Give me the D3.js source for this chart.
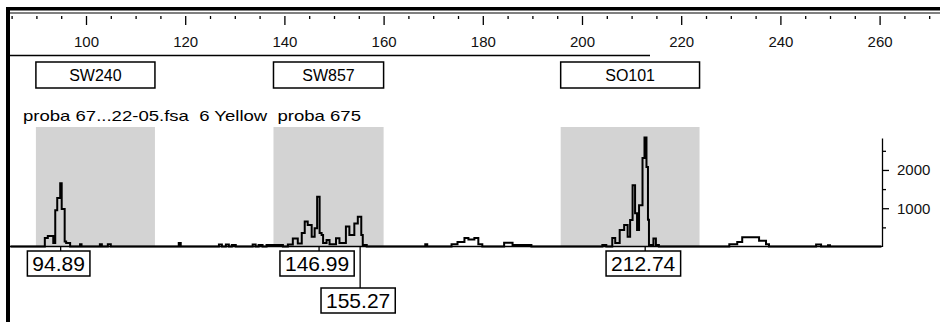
<!DOCTYPE html>
<html>
<head>
<meta charset="utf-8">
<script src="https://cdn.jsdelivr.net/npm/d3@7"></script>
<style>
  body { margin: 0; background: #fff; }
  svg { display: block; font-family: "Liberation Sans", Arial, sans-serif; }
</style>
</head>
<body>
<div id="chart"></div>
<script>
// size axis (bp) and rfu axis
const sizeMajor = [100, 120, 140, 160, 180, 200, 220, 240, 260];
const sizeMinor = [85, 90, 95, 105, 110, 115, 125, 130, 135, 145, 150, 155, 165, 170, 175,
    185, 190, 195, 205, 210, 215, 225, 230, 235, 245, 250, 255, 265, 270];
const rfuMajor = [1000, 2000];
const rfuMinor = [500, 1500, 2500];

// marker bins
const binNames = ["SW240", "SW857", "SO101"];
const binStart = [89.9, 137.8, 195.7];
const binEnd = [113.9, 160.0, 223.7];

const sampleTitle = "proba 67...22-05.fsa  6 Yellow  proba 675";

// trace (size bp, height rfu), drawn as steps
const traceSize = [84.8, 91.7, 92.3, 93.4, 93.8, 94.2, 94.8, 95.1, 95.7, 96.0, 96.8, 98.8, 99.1,
    102.8, 103.2, 104.4, 105.0, 118.7, 119.1, 126.8, 127.4, 128.2, 128.8, 129.4, 130.2,
    133.6, 134.2, 134.8, 135.6, 136.4, 139.7, 140.7, 141.7, 142.7, 143.5, 144.1, 144.7,
    145.5, 146.1, 146.6, 147.1, 147.5, 147.8, 148.5, 149.1, 150.4, 151.1, 152.4, 153.1,
    154.1, 154.8, 155.5, 155.8, 156.6, 168.4, 168.8, 173.7, 174.9, 176.3, 177.1, 178.3,
    179.1, 179.9, 184.3, 186.0, 189.8, 204.1, 204.9, 206.1, 206.7, 207.6, 208.5, 209.2,
    209.7, 210.2, 210.7, 211.1, 211.5, 212.2, 212.6, 213.0, 213.3, 213.5, 214.4, 214.9,
    215.5, 229.7, 231.3, 232.3, 235.7, 237.1, 237.7, 247.2, 248.2, 249.6, 250.0, 260.3];
const traceRfu = [0, 220, 275, 90, 950, 1270, 1650, 980, 130, 90, 0, 60, 0,
    60, 0, 60, 0, 90, 0, 50, 0, 50, 0, 40, 0,
    50, 0, 40, 0, 40, 0, 50, 210, 80, 350, 650, 560,
    255, 475, 1300, 350, 300, 90, 170, 60, 215, 90, 520, 300,
    600, 780, 300, 40, 0, 60, 0, 60, 120, 220, 180, 220,
    60, 0, 100, 40, 0, 40, 0, 220, 90, 430, 560, 255,
    690, 1600, 870, 430, 1080, 2310, 2850, 2080, 700, 40, 210, 40,
    0, 60, 120, 240, 150, 60, 0, 50, 0, 30, 0, 0];

// called peaks
const peakSizes = [94.89, 146.99, 155.27, 212.74];
const peakRows = [0, 0, 1, 0];

const W = 940, H = 322;
const svg = d3.select("#chart").append("svg")
    .attr("width", W)
    .attr("height", H);

const x = d3.scaleLinear().domain([100, 260]).range([86, 879.6]);
const y = d3.scaleLinear().domain([0, 2835]).range([246.5, 138]);

// frame
svg.append("rect").attr("x", 6).attr("y", 7).attr("width", W - 6).attr("height", 3.5).attr("fill", "#000");
svg.append("rect").attr("x", 6).attr("y", 7).attr("width", 4).attr("height", H - 7).attr("fill", "#000");
svg.append("line").attr("x1", 10).attr("x2", W).attr("y1", 13).attr("y2", 13)
    .attr("stroke", "#000").attr("stroke-width", 1);
svg.append("line").attr("x1", 10).attr("x2", 650).attr("y1", 55.5).attr("y2", 55.5)
    .attr("stroke", "#000").attr("stroke-width", 1.5);

// top size axis
const topAxis = svg.append("g")
    .attr("transform", "translate(0,16)")
    .call(d3.axisBottom(x).tickValues(sizeMajor).tickSize(9).tickSizeOuter(0).tickPadding(11));
topAxis.select(".domain").remove();
topAxis.selectAll("line").attr("stroke-width", 1.3);
topAxis.selectAll("text").attr("font-size", 15).attr("font-family", "Liberation Sans, Arial, sans-serif").attr("fill", "#111");

const topMinor = svg.append("g")
    .attr("transform", "translate(0,16)")
    .call(d3.axisBottom(x).tickValues(sizeMinor).tickSize(3).tickSizeOuter(0).tickFormat(""));
topMinor.select(".domain").remove();
topMinor.selectAll("line").attr("stroke-width", 1.3);

// bin labels
binNames.forEach((name, i) => {
    const x0 = x(binStart[i]), x1 = x(binEnd[i]);
    svg.append("rect")
        .attr("x", x0).attr("y", 127)
        .attr("width", x1 - x0).attr("height", y(0) - 127)
        .attr("fill", "#d3d3d3");
    svg.append("rect")
        .attr("x", x0).attr("y", 62)
        .attr("width", x1 - x0).attr("height", 26)
        .attr("fill", "none").attr("stroke", "#000").attr("stroke-width", 1.5);
    svg.append("text")
        .attr("x", (x0 + x1) / 2).attr("y", 81)
        .attr("text-anchor", "middle")
        .attr("font-size", 16)
        .text(name);
});

svg.append("text")
    .attr("x", 23).attr("y", 121)
    .attr("font-size", 15)
    .style("white-space", "pre")
    .attr("textLength", 338)
    .attr("lengthAdjust", "spacingAndGlyphs")
    .text(sampleTitle);

// right rfu axis
const rightAxis = svg.append("g")
    .attr("transform", "translate(882,0)")
    .call(d3.axisRight(y).tickValues(rfuMajor).tickSize(7).tickSizeOuter(0).tickPadding(8)
        .tickFormat(d3.format("d")));
rightAxis.select(".domain").attr("stroke-width", 1.3);
rightAxis.selectAll("line").attr("stroke-width", 1.3);
rightAxis.selectAll("text").attr("font-size", 15).attr("font-family", "Liberation Sans, Arial, sans-serif").attr("fill", "#111");

const rightMinor = svg.append("g")
    .attr("transform", "translate(882,0)")
    .call(d3.axisRight(y).tickValues(rfuMinor).tickSize(4).tickSizeOuter(0).tickFormat(""));
rightMinor.select(".domain").remove();
rightMinor.selectAll("line").attr("stroke-width", 1.3);

// baseline + trace
svg.append("line")
    .attr("x1", 10).attr("x2", 882)
    .attr("y1", y(0)).attr("y2", y(0))
    .attr("stroke", "#000").attr("stroke-width", 1.5);

const trace = traceSize.map((s, i) => ({s: s, v: traceRfu[i]}));
svg.append("path")
    .datum(trace)
    .attr("fill", "none")
    .attr("stroke", "#000")
    .attr("stroke-width", 2)
    .attr("stroke-linejoin", "miter")
    .attr("d", d3.line().x(d => x(d.s)).y(d => y(d.v)).curve(d3.curveStepAfter));

// peak size labels
const rowTop = [251, 288];
peakSizes.forEach((p, i) => {
    const px = x(p), top = rowTop[peakRows[i]];
    svg.append("line")
        .attr("x1", px).attr("x2", px)
        .attr("y1", y(0)).attr("y2", top)
        .attr("stroke", "#000").attr("stroke-width", 1.3);
    const box = svg.append("rect");
    const t = svg.append("text")
        .attr("x", px - 2).attr("y", top + 20)
        .attr("text-anchor", "middle")
        .attr("font-size", 21)
        .text(p.toFixed(2));
    const bb = t.node().getBBox();
    box.attr("x", bb.x - 5).attr("y", top)
        .attr("width", bb.width + 10).attr("height", 25)
        .attr("fill", "#fff").attr("stroke", "#000").attr("stroke-width", 1.5);
});
</script>
</body>
</html>
